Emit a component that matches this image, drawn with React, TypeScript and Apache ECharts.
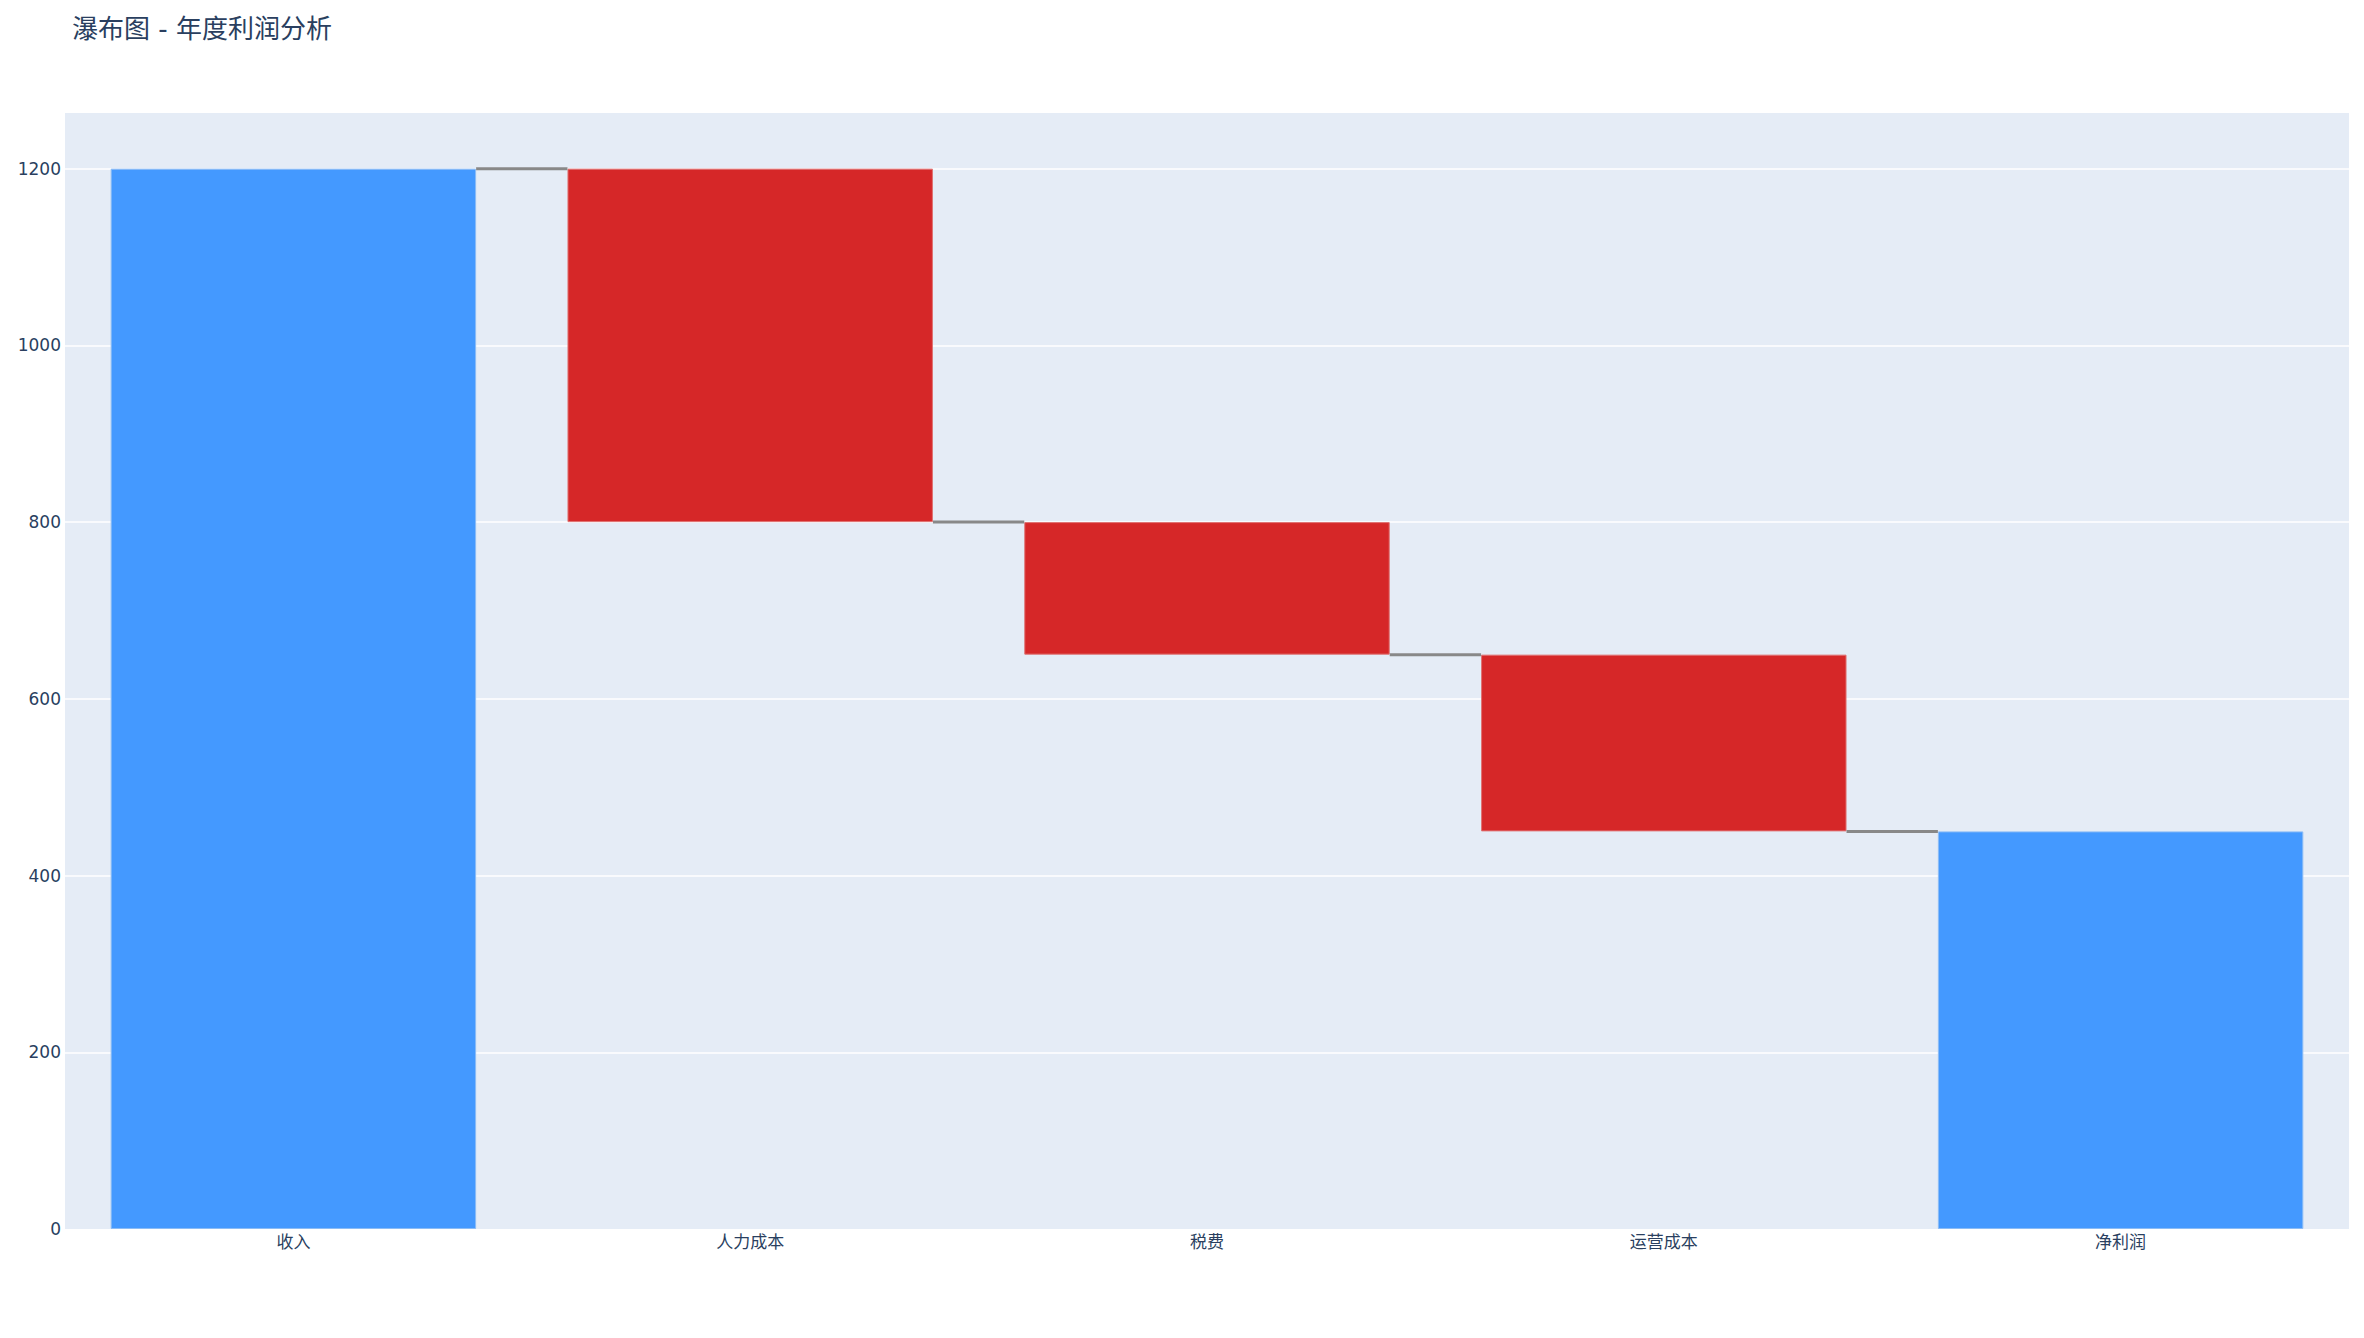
import React, { useEffect, useRef } from "react";
import * as echarts from "echarts";

const categories = ["收入", "人力成本", "税费", "运营成本", "净利润"];
const measures = ["absolute", "relative", "relative", "relative", "total"];
const amounts = [1200, -400, -150, -200, 0];
const yTicks = [0, 200, 400, 600, 800, 1000, 1200];

const BLUE = "#4499FF";
const RED = "#D62728";

export default function App() {
  const ref = useRef<HTMLDivElement>(null);
  useEffect(() => {
    if (!ref.current) return;
    const chart = echarts.init(ref.current, null, { renderer: "svg" });

    const bases: number[] = [];
    const heights: number[] = [];
    const colors: string[] = [];
    const levels: number[] = [];
    let running = 0;
    categories.forEach((_, i) => {
      const m = measures[i];
      if (m === "absolute") {
        running = amounts[i];
        bases.push(0);
        heights.push(amounts[i]);
        colors.push(BLUE);
      } else if (m === "total") {
        bases.push(0);
        heights.push(running);
        colors.push(BLUE);
      } else {
        const prev = running;
        running += amounts[i];
        bases.push(Math.min(prev, running));
        heights.push(Math.abs(amounts[i]));
        colors.push(amounts[i] < 0 ? RED : "#2CA02C");
      }
      levels.push(running);
    });

    const connectorData = levels.slice(0, levels.length - 1).map((lv, i) => [i, lv]);
    const barFrac = 0.8;

    chart.setOption({
      animation: false,
      backgroundColor: "#ffffff",
      title: {
        text: "瀑布图 - 年度利润分析",
        left: 67,
        top: 11,
        textStyle: {
          fontFamily: '"DejaVu Sans", "Noto Sans CJK SC", sans-serif',
          fontSize: 26,
          fontWeight: "normal",
          color: "#2a3f5f",
        },
      },
      grid: {
        left: 65,
        right: 15,
        top: 113,
        bottom: 109,
        show: true,
        backgroundColor: "#E5ECF6",
        borderWidth: 0,
        containLabel: false,
      },
      xAxis: {
        type: "category",
        data: categories,
        axisLine: { show: false },
        axisTick: { show: false },
        splitLine: { show: false },
        axisLabel: {
          margin: 4,
          fontSize: 17,
          color: "#2a3f5f",
          fontFamily: '"DejaVu Sans", "Noto Sans CJK SC", sans-serif',
        },
      },
      yAxis: {
        type: "value",
        min: 0,
        max: 1263,
        interval: 200,
        axisLine: { show: false },
        axisTick: { show: false },
        splitLine: {
          show: true,
          showMinLine: false,
          showMaxLine: false,
          lineStyle: { color: "#ffffff", width: 1.5 },
        },
        axisLabel: {
          showMaxLabel: false,
          margin: 4,
          fontSize: 17,
          color: "#2a3f5f",
          fontFamily: '"DejaVu Sans", sans-serif',
          formatter: (v: number) => (yTicks.includes(v) ? String(v) : ""),
        },
      },
      series: [
        {
          type: "bar",
          stack: "wf",
          barCategoryGap: "20%",
          silent: true,
          itemStyle: { color: "transparent" },
          data: bases,
        },
        {
          type: "bar",
          stack: "wf",
          barCategoryGap: "20%",
          data: heights.map((h, i) => ({
            value: h,
            itemStyle: {
              color: colors[i],
              borderColor: colors[i] === BLUE ? "#8cbcf5" : "#e07070",
              borderWidth: 1,
            },
          })),
        },
        {
          type: "custom",
          encode: { x: 0, y: 1 },
          data: connectorData,
          z: 5,
          renderItem: (params: any, api: any) => {
            const idx = api.value(0);
            const lv = api.value(1);
            const p0 = api.coord([idx, lv]);
            const p1 = api.coord([idx + 1, lv]);
            const bw = api.size([1, 0])[0];
            return {
              type: "line",
              shape: {
                x1: p0[0] + (bw * barFrac) / 2,
                y1: p0[1],
                x2: p1[0] - (bw * barFrac) / 2,
                y2: p1[1],
              },
              style: { stroke: "#888888", lineWidth: 3 },
            };
          },
        },
      ],
    });
    return () => chart.dispose();
  }, []);

  return (
    <div
      ref={ref}
      style={{ position: "fixed", left: 0, top: 0, width: 2364, height: 1338 }}
    />
  );
}
